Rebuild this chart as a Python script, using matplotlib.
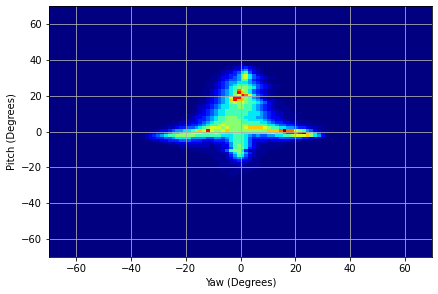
import numpy as np
import matplotlib
matplotlib.use('Agg')
import matplotlib.pyplot as plt
from matplotlib.colors import PowerNorm

x_ticks = [-60, -40, -20, 0, 20, 40, 60]
y_ticks = [-60, -40, -20, 0, 20, 40, 60]

# counts, one char per bin, hex, top row first
# first column is bin 23 in x, first row is bin 76 in y
rows = [
    "..........................12",
    ".......................1122343211",
    ".....................112233564321",
    ".....................122345785321",
    "....................11234469a75321",
    "...................112334569a7543211",
    "...................112345568864321",
    "..................11234566777654321",
    "..................1123456788876543211",
    "..................1123457899987543211",
    ".................112345678ca97543211",
    ".................112345679db97543211",
    ".................112345679adca7543211",
    "................11234567addb98653211",
    "................11234567bdbb9876532211",
    "................112345679a9a98876532111",
    "...............112345677889988765432111.1",
    "...............1223456778899887654321111",
    "..............11234567788888887654322111",
    "..............112345677888888777654322111.1",
    ".............11233456778888887776543221111",
    "............112334567889998877766543321111",
    "...........1122344567889999887777654332211111",
    ".........1122233456788999998888877654433221111",
    "........11223344567889a99999988888776554432211111",
    "......1122344556789aaa9a9999abbbba988776654432211",
    "...1123345667789bada99ab9999999999bbbcecca98653211",
    "..123445677899aaa999a99889988888889abbcddcdeb97531",
    ".123456788999998888888777888765655667788 9aaab97631".replace(' ', ''),
    ".123344556777766665566567888754444444555555443221",
    "..11223344455544433344457888753333233333222111",
    ".....112223333333222333468887532221111111",
    "........111222222221223368987532111111",
    "...........1111111111223589974321111",
    "..............11111112358997422111",
    "................111111225798642111",
    "...................11112468753211",
    "....................111235654211",
    "....................111123433211",
    ".....................11122222111",
    ".....................11111221111",
    "......................111111111",
    "......................1.11.111",
    ".......................1111.1",
    "........................11",
]

counts = np.zeros((100, 100))
for n, row in enumerate(rows):
    for m, ch in enumerate(row):
        if ch != '.':
            counts[76 - n, 23 + m] = int(ch, 16)

xedges = np.linspace(-70, 70, 101)
yedges = np.linspace(-70, 70, 101)

fig = plt.figure(figsize=(438 / 72, 294 / 72), dpi=72)
ax = fig.add_axes([49 / 438, 1 - 257 / 294, 383 / 438, 251 / 294])
ax.pcolormesh(xedges, yedges, counts, cmap='jet', norm=PowerNorm(1.5, vmin=0, vmax=14))
ax.set_xticks(x_ticks)
ax.set_yticks(y_ticks)
ax.set_xlabel('Yaw (Degrees)')
ax.set_ylabel('Pitch (Degrees)')
ax.grid(True)
fig.savefig('out.png', dpi=72)
